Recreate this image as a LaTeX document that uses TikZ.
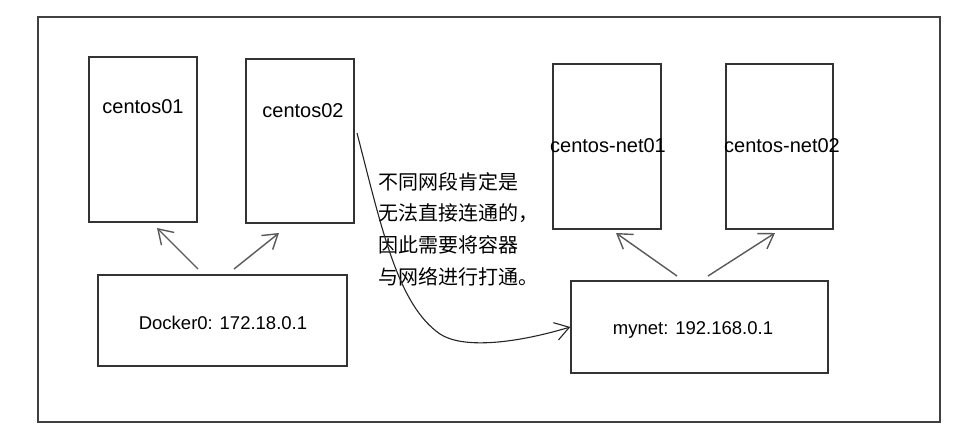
\documentclass[tikz,border=0pt]{standalone}
\usepackage{fontspec}
\setmainfont{Liberation Sans}
\newfontfamily\cjk{Noto Sans CJK SC}
\usetikzlibrary{arrows.meta}

\begin{document}
\begin{tikzpicture}[x=1pt, y=-1pt,
        box/.style={draw=black!80, line width=1.4pt, inner sep=0pt},
        lbl/.style={font=\fontsize{20}{22}\selectfont, inner sep=0pt},
        iplbl/.style={font=\fontsize{18.5}{22}\selectfont, inner sep=0pt},
        arr/.style={draw=black!65, line width=1.4pt, -{Straight Barb[length=14pt,width=18pt]}}]
        \fill[white] (0,0) rectangle (977,436);
        \useasboundingbox (0,0) rectangle (977,436);
        \draw[black!75, line width=1.3pt] (38,17) rectangle (940,422);

        \node[box, minimum width=108pt, minimum height=165pt] (c1) at (143,139.5) {};
        \node[box, minimum width=108pt, minimum height=164pt] (c2) at (300,141) {};
        \node[box, minimum width=108pt, minimum height=165pt] (n1) at (607,146.5) {};
        \node[box, minimum width=107pt, minimum height=165pt] (n2) at (779.5,146.5) {};
        \node[box, minimum width=249pt, minimum height=91pt] (dk) at (222.5,320.5) {};
        \node[box, minimum width=257pt, minimum height=92pt] (mn) at (699.5,327) {};

        \node[lbl] (c1lbl) at (143,107) {centos01};
        \node[lbl] (c2lbl) at (303,111) {centos02};
        \node[lbl] (n1lbl) at (608,146) {centos-net01};
        \node[lbl] (n2lbl) at (782,146) {centos-net02};
        \node[iplbl] (dklbl) at (223,323) {Docker0: 172.18.0.1};
        \node[iplbl] (mnlbl) at (693,330) {mynet: 192.168.0.1};

        \node[font=\cjk\fontsize{20}{31.7}\selectfont, align=left, anchor=north west, inner sep=0pt]
            (note) at (378,172) {不同网段肯定是\\无法直接连通的，\\因此需要将容器\\与网络进行打通。};

        \coordinate (d1) at (198,269);
        \coordinate (d2) at (234,269);
        \coordinate (c1b) at (157,228);
        \coordinate (c2b) at (279,233);
        \coordinate (m1) at (677,276);
        \coordinate (m2) at (708,276);
        \coordinate (n1b) at (616,233);
        \coordinate (n2b) at (775,233);
        \coordinate (c2r) at (357,133);
        \coordinate (bend) at (440,334);

        \draw[arr] (d1) -- (c1b);
        \draw[arr] (d2) -- (c2b);
        \draw[arr] (m1) -- (n1b);
        \draw[arr] (m2) -- (n2b);
        \draw[arr, draw=black!85, line width=1.1pt] (c2r) .. controls (382,230) and (398,305) .. (bend)
            .. controls (461,348) and (510,345) .. (mn.west);
    \end{tikzpicture}
\end{document}
